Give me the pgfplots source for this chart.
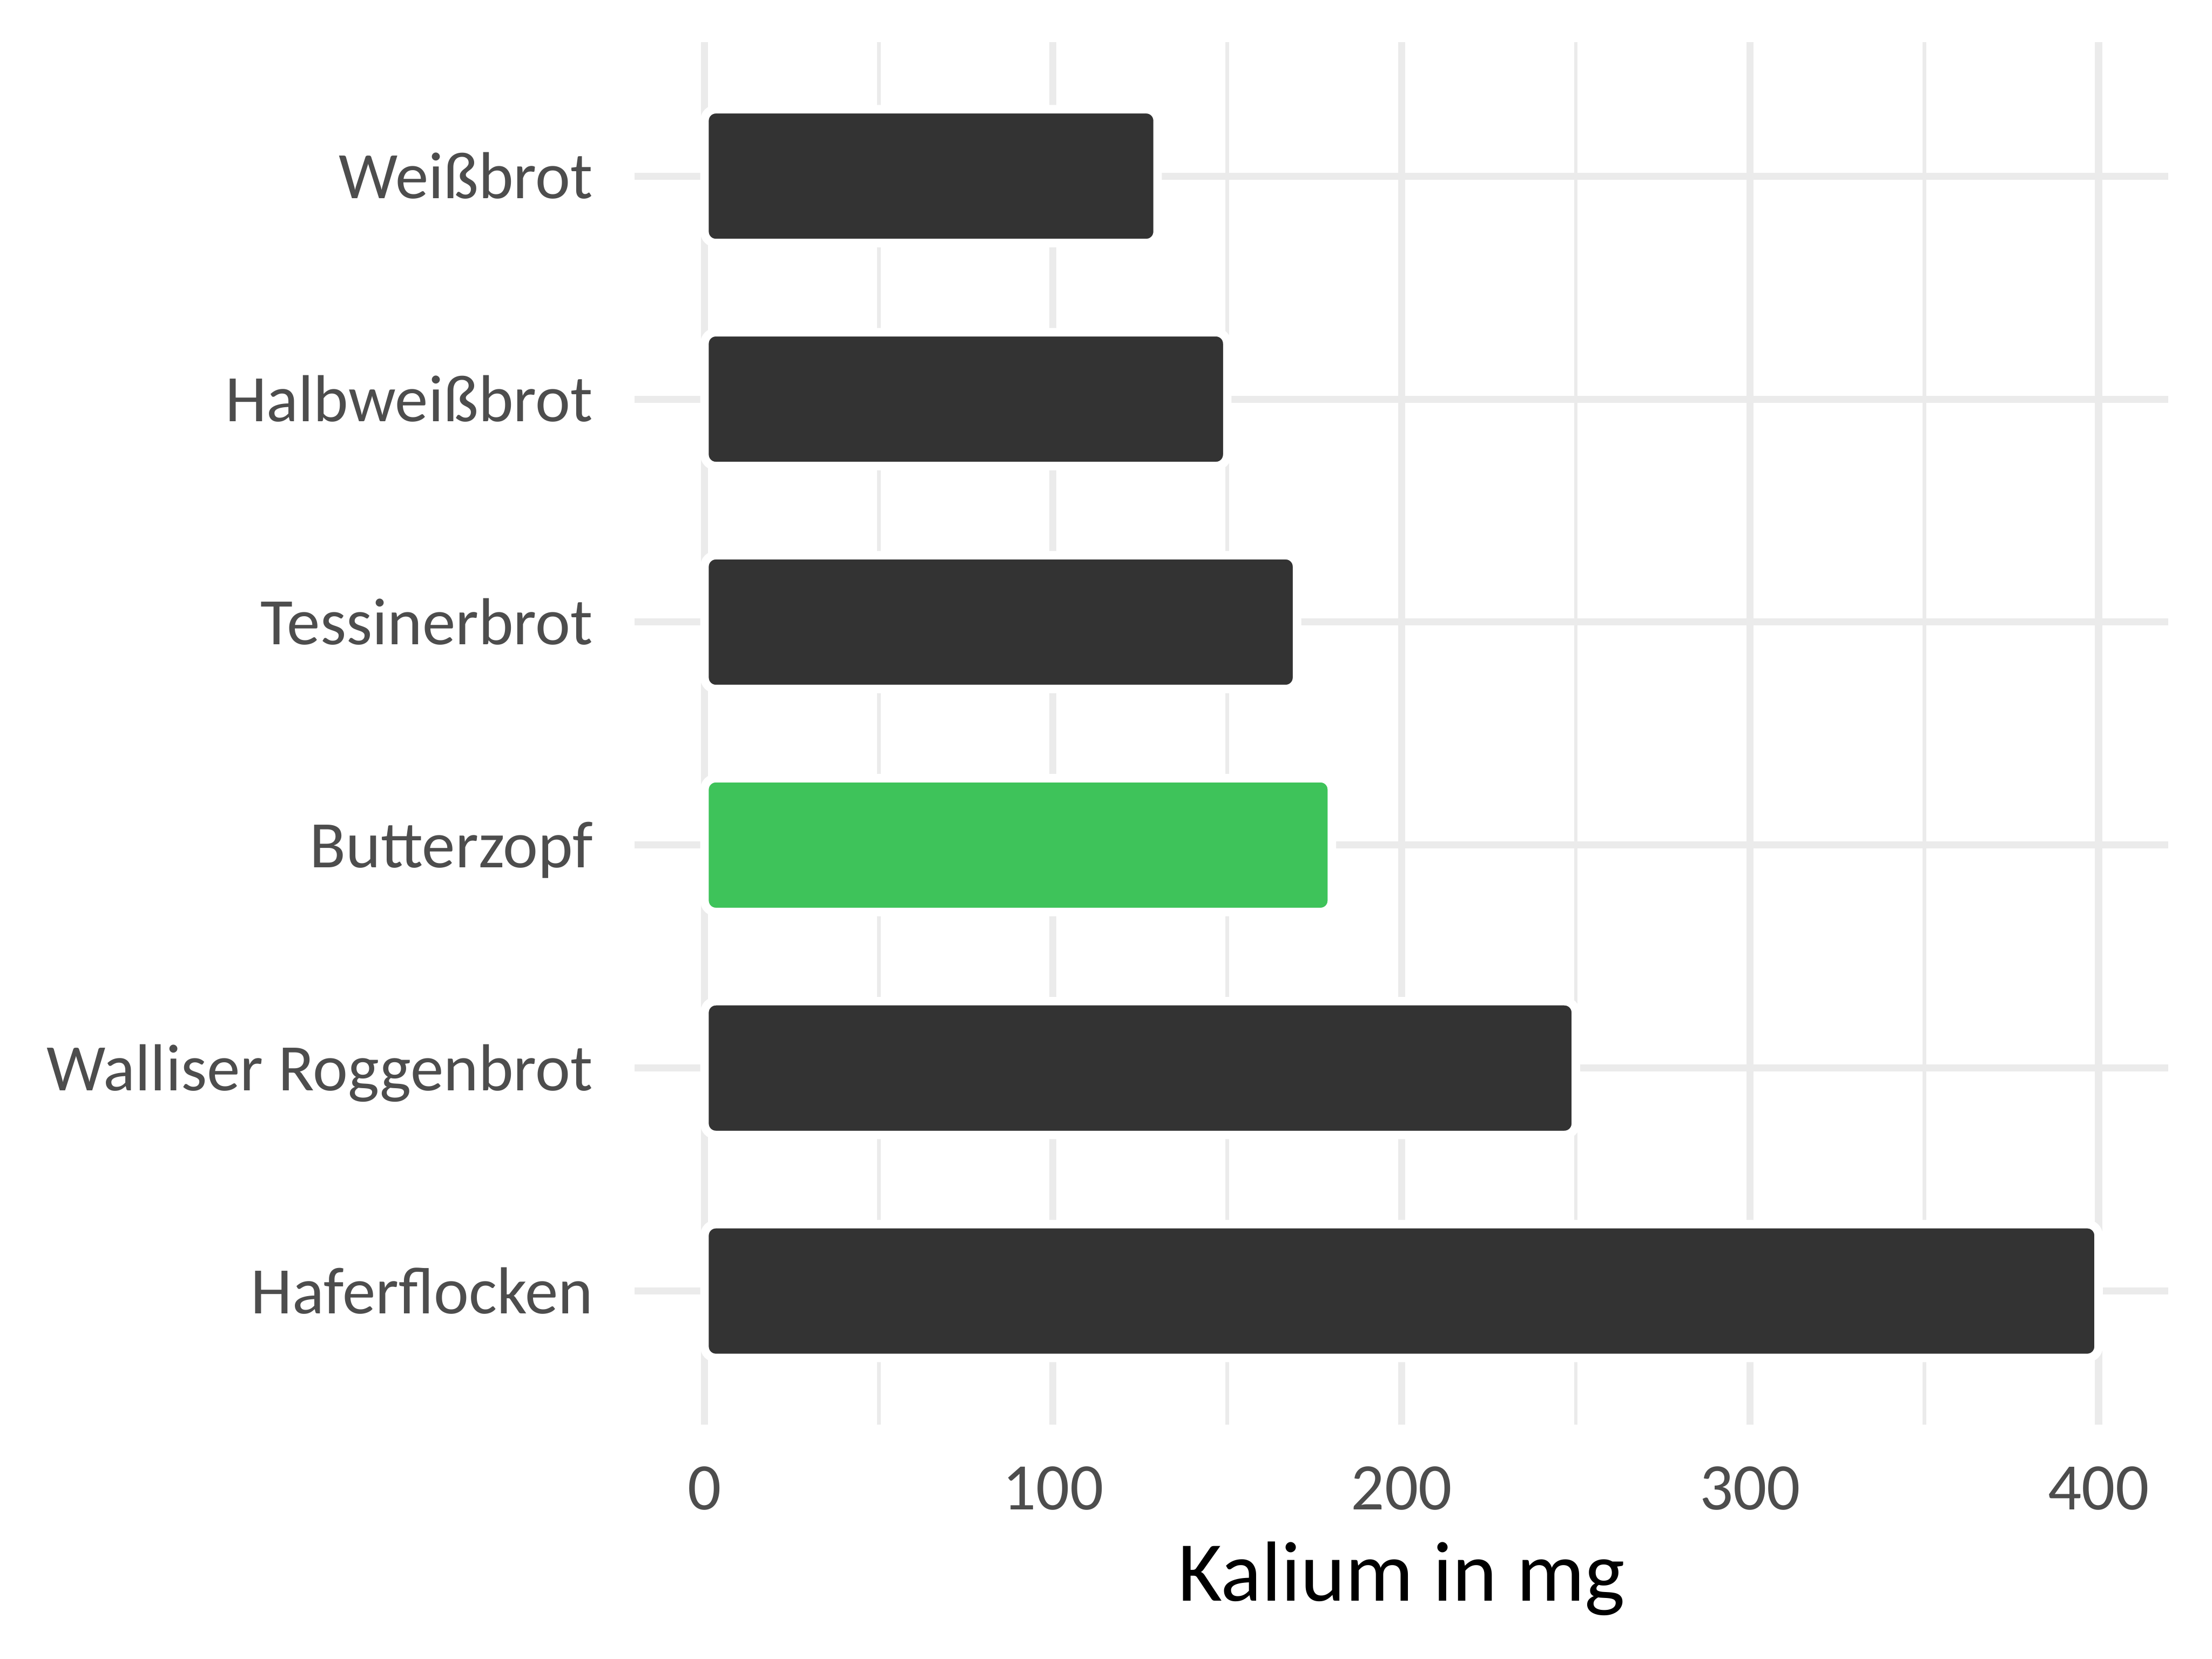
\documentclass[border=0pt]{standalone}
\usepackage{pgfplots}
\pgfplotsset{compat=1.18}
\usepackage{fontspec}
\setmainfont{Carlito}
\definecolor{gridgray}{HTML}{EBEBEB}
\definecolor{ticktext}{HTML}{4D4D4D}
\definecolor{bardark}{HTML}{333333}
\definecolor{bargreen}{HTML}{3EC35A}

\begin{document}
\begin{tikzpicture}
  \useasboundingbox (-45mm,-16.6mm) rectangle (111.8mm,101mm);
  \begin{axis}[
      xbar, bar shift=0pt, bar width=0.6,
      scale only axis, width=108.7mm, height=98mm,
      xmin=-20, xmax=420, ymin=-0.6, ymax=5.6,
      y dir=reverse,
      axis line style={draw=none},
      major tick length=0pt, minor tick length=0pt,
      xtick={0,100,200,300,400}, minor x tick num=1,
      ytick={0,1,2,3,4,5},
      yticklabels={Weißbrot,Halbweißbrot,Tessinerbrot,Butterzopf,Walliser Roggenbrot,Haferflocken},
      xmajorgrids, xminorgrids, ymajorgrids,
      major grid style={gridgray, line width=0.5mm},
      minor grid style={gridgray, line width=0.26mm},
      /pgf/number format/assume math mode=true,
      tick label style={font=\fontsize{13.4pt}{16pt}\selectfont, text=ticktext, inner sep=0pt},
      yticklabel style={anchor=base east, xshift=-2.9mm, yshift=-1.6mm},
      xticklabel style={anchor=base, yshift=-6.0mm},
      xlabel={Kalium in mg},
      xlabel style={font=\fontsize{17.2pt}{20pt}\selectfont, inner sep=0pt,
        at={(axis description cs:0.5,0)}, anchor=base, yshift=-12.5mm},
    ]
    \addplot[fill=bardark, draw=white, line width=0.6mm, rounded corners=0.8mm]
      coordinates {(130,0) (150,1) (170,2) (250,4) (400,5)};
    \addplot[fill=bargreen, draw=white, line width=0.6mm, rounded corners=0.8mm]
      coordinates {(180,3)};
  \end{axis}
\end{tikzpicture}
\end{document}
